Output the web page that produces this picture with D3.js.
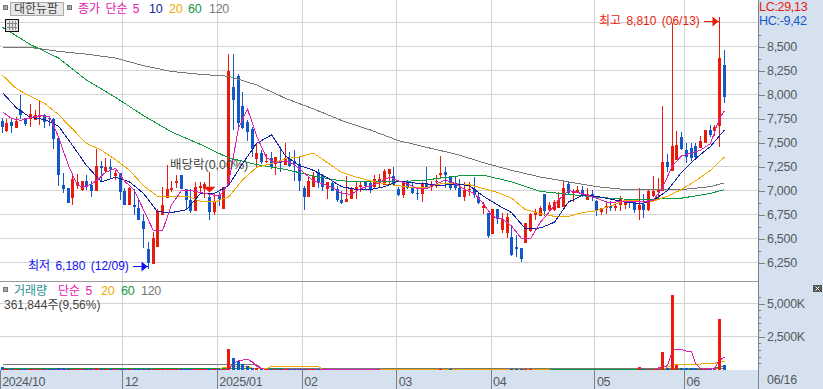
<!DOCTYPE html>
<html lang="ko">
<head>
<meta charset="utf-8">
<script src="https://cdn.jsdelivr.net/npm/d3@7"></script>
<style>
  html, body { margin: 0; padding: 0; background: #fff; overflow: hidden; }
  svg { display: block; }
  text { font-family: "Liberation Sans", "Noto Sans CJK KR", sans-serif; font-size: 12.5px; letter-spacing: -0.3px; }
  .kr { font-size: 12px; letter-spacing: 0; word-spacing: 2px; }
</style>
</head>
<body>
<div id="container"></div>
<script>
// daily candles (won)
const opens = [7720,7620,7710,7650,7840,7760,7740,7730,7770,7790,
  7760,7750,7550,7060,7030,6920,7050,7010,7100,7060,
  6990,7260,7200,7240,7150,7180,6990,6850,6850,6820,
  6680,6390,6230,6410,6750,6920,7010,7080,7160,7020,
  6900,6790,7030,7020,6930,6780,6950,6810,7070,8080,
  8190,7880,7710,7640,7330,7390,7300,7340,7280,7310,
  7270,7340,7310,7280,7030,6930,7040,7190,7160,7020,
  7080,7020,6900,6880,6910,7010,7040,7090,7080,7040,
  7090,7060,7170,7150,7020,6950,7100,7030,6970,6960,
  7070,7040,7090,7160,7190,7140,7070,7030,6930,7010,
  7020,6930,6820,6770,6550,6810,6590,6560,6520,6410,
  6400,6450,6580,6740,6730,6960,6800,6800,6820,6830,
  7070,6970,6980,7010,6900,6960,6890,6780,6820,6840,
  6820,6850,6850,6910,6900,6800,6860,6800,6940,6980,
  7000,7300,7200,7320,7560,7420,7440,7460,7440,7490,
  7630,7620,7670,8310]
const closes = [7660,7700,7670,7720,7790,7690,7800,7790,7790,7710,
  7740,7540,7160,7020,6870,7120,7090,7100,7050,6990,
  7260,7230,7240,7220,7180,6980,6850,7030,6830,6690,
  6600,6250,6510,6790,6850,7020,7030,7100,7020,6900,
  6790,7040,7050,7070,6780,6880,6910,7040,8250,7940,
  7700,7650,7610,7430,7390,7300,7310,7240,7350,7290,
  7340,7260,7280,7100,6930,7100,7150,7090,7040,7090,
  7000,6900,6870,6910,7030,7040,7060,7050,7010,7120,
  7120,7200,7220,7060,6950,7090,7030,6970,6960,7070,
  7030,7060,7100,7180,7160,7030,7030,6930,7010,7020,
  6950,6870,6840,6530,6810,6700,6700,6720,6330,6390,
  6290,6660,6760,6780,6820,6790,6850,6880,6900,7030,
  6970,7000,7010,6950,6960,6930,6790,6820,6840,6820,
  6840,6910,6910,6870,6800,6850,6800,7000,7000,7020,
  7300,7240,7460,7470,7430,7350,7340,7350,7520,7630,
  7580,7660,8380,7970]
const highs = [7760,7750,7750,7770,8000,7760,7900,7840,7940,7800,
  7780,7760,7550,7180,7030,7170,7170,7100,7160,7100,
  7430,7310,7340,7330,7210,7180,7030,7040,7020,6920,
  6760,6460,6570,6810,7040,7270,7100,7160,7160,7020,
  7020,7090,7090,7090,6970,6970,6980,7040,8420,8420,
  8210,8030,7730,7660,7500,7420,7380,7400,7350,7430,
  7500,7400,7420,7360,7050,7140,7190,7220,7170,7090,
  7090,7050,7000,7150,7040,7090,7100,7100,7090,7160,
  7170,7220,7220,7240,7040,7100,7110,7090,7020,7090,
  7240,7100,7160,7360,7250,7150,7140,7120,7090,7090,
  7140,6980,6880,6770,6810,6810,6770,6770,6640,6540,
  6400,6660,6770,6810,6840,6960,6880,6900,6980,7090,
  7090,7020,7050,7050,7030,7010,6900,6820,6890,6890,
  6860,6940,6910,6910,6900,7030,6960,7010,7150,7130,
  7880,7380,8750,7620,7610,7500,7500,7490,7570,7630,
  7680,7680,8810,8460]
const lows = [7600,7610,7600,7650,7750,7670,7660,7730,7680,7650,
  7670,7430,7050,6970,6870,6850,7020,7000,7010,6930,
  6990,7090,7190,7120,7110,6900,6850,6850,6740,6690,
  6400,6180,6230,6410,6750,6920,6980,7030,7020,6800,
  6770,6790,6980,6920,6690,6740,6840,6810,7070,7630,
  7640,7640,7520,7350,7240,7280,7290,7220,7160,7190,
  7270,7250,7100,7000,6800,6930,7040,7030,7000,6910,
  7000,6880,6860,6880,6910,6910,6980,7010,6970,7030,
  7040,7060,7070,7050,6940,6920,7020,6960,6900,6880,
  7020,6990,7030,7130,7030,7010,7010,6930,6890,6940,
  6920,6860,6760,6510,6550,6650,6560,6510,6320,6310,
  6260,6450,6570,6690,6730,6730,6790,6790,6820,6830,
  6960,6880,6970,6930,6900,6890,6730,6740,6760,6790,
  6790,6790,6810,6820,6770,6690,6710,6790,6930,6910,
  7000,7190,7200,7320,7420,7290,7310,7320,7440,7490,
  7560,7570,7450,7910]
// traded volume in thousands of shares
const volumes = [210,80,70,80,70,80,70,80,70,80,
  80,80,170,170,70,80,70,70,70,70,
  170,80,70,70,70,80,70,70,80,70,
  80,80,90,90,80,80,70,70,70,70,
  70,70,70,70,70,70,70,80,1560,920,
  640,470,270,180,130,110,80,80,80,70,
  70,70,70,80,70,70,70,70,20,20,
  20,20,20,20,20,20,20,20,20,20,
  20,20,20,20,20,20,20,20,20,20,
  20,20,20,70,20,70,20,20,20,20,
  20,20,20,20,20,20,20,20,70,70,
  70,70,70,20,20,20,20,20,20,20,
  20,20,20,20,20,20,20,20,20,20,
  20,20,20,20,20,190,70,70,70,70,
  1330,150,5650,340,140,140,140,140,110,110,
  110,110,3830,362]

// moving averages, read at the candle numbers listed in the ...At arrays
const ma5At = d3.range(0, 153, 2).concat([153])
const ma5 = [7820,7750,7730,7760,7780,7770,7560,7260,7050,7040,
  7100,7190,7230,7100,7000,6800,6580,6580,6850,7000,
  7000,6980,6960,6940,7070,7650,7850,7570,7340,7290,
  7310,7270,7180,7100,7070,7030,6970,6960,7020,7050,
  7080,7140,7100,7070,7020,7020,7070,7110,7070,7010,
  6970,6860,6730,6700,6630,6500,6500,6670,6780,6900,
  7000,6980,6950,6920,6880,6880,6890,6890,6880,6900,
  7030,7260,7360,7390,7420,7490,7750,7830]
const ma10At = d3.range(0, 154, 3)
const ma10 = [8020,7860,7760,7740,7670,7470,7260,7090,7140,7090,
  6970,6780,6770,6800,6970,6970,7050,7280,7490,7580,
  7360,7260,7210,7130,7040,7010,7010,7040,7100,7080,
  7070,7050,7070,7050,6940,6850,6770,6600,6610,6670,
  6880,6950,6940,6910,6880,6860,6900,7000,7190,7330,
  7460,7630]
const ma20At = d3.range(0, 154, 3)
const ma20 = [8200,8060,7980,7910,7790,7640,7490,7420,7320,7210,
  7050,6940,6940,6940,6890,6880,6930,7110,7240,7280,
  7330,7350,7390,7290,7190,7140,7100,7070,7050,7030,
  7030,7070,7070,7060,7020,6980,6920,6800,6760,6730,
  6730,6770,6790,6840,6900,6890,6890,6940,7010,7100,
  7210,7350]
const ma60At = d3.range(0, 151, 6).concat([153])
const ma60 = [8700,8520,8380,8150,7970,7780,7610,7480,7340,7270,
  7220,7150,7100,7090,7090,7110,7150,7160,7090,6990,
  6960,6930,6910,6910,6920,6970,7010]
const ma120At = d3.range(0, 151, 6).concat([153])
const ma120 = [8490,8490,8450,8420,8380,8300,8240,8210,8190,8100,
  7960,7850,7730,7630,7520,7450,7380,7290,7210,7140,
  7090,7040,7010,7010,7010,7040,7080]

const volMa5At = [0,47,48,49,50,51,52,53,54,55,56,79,80,138,139,140,141,142,143,144,145,146,147,148,151,152,153]
const volMa5 = [40,40,60,525,675,750,800,600,300,110,40,40,0,0,150,225,320,1500,1550,1550,1420,1370,500,130,130,750,950]
const volMa20At = [0,46,47,51,52,53,56,57,67,68,115,116,140,141,142,147,151,152,153]
const volMa20 = [40,40,200,300,300,110,110,280,250,40,40,0,0,200,430,430,500,620,650]
const volMa60At = [0,59,60,150,152,153]
const volMa60 = [112,112,40,40,240,270]
const volMa120At = [0,54,55,153]
const volMa120 = [412,412,112,112]

// axis ticks
const priceTicks = [8500,8250,8000,7750,7500,7250,7000,6750,6500,6250]
const priceGrid = [8750].concat(priceTicks)
const priceMinor = [8625,8375,8125,7875,7625,7375,7125,6875,6625,6375]
const volTicks = [5000,2500]
const volMinor = [5500,4500,4000,3500,3000,2000,1500,1000,500]
const monthStart = [0,26,46,64,84,104,126,145]
const monthLabels = ['2024/10','12','2025/01','02','03','04','05','06']
const lastDate = '06/16'

const red = '#e91c0c', blue = '#1458c8'
const magenta = '#e020b0', navy = '#1020a0', orange = '#f0a800', green = '#109840', gray = '#777777'

const width = 823, height = 389
const plotRight = 758, priceBottom = 281, volBottom = 370

const svg = d3.select('#container').append('svg').attr('width', width).attr('height', height)

const x = d3.scaleLinear().domain([0, 153]).range([2.02, 724.2])
const y = d3.scaleLinear().domain([6250, 8500]).range([262.5, 46.5])
const yVol = d3.scaleLinear().domain([0, 5000]).range([370, 303.5])

// candle centre sits on a whole pixel column
const cx = i => Math.floor(x(i)) + 0.5

// right side panel and date strip
svg.append('rect').attr('x', plotRight).attr('y', 0).attr('width', width - plotRight).attr('height', height).attr('fill', '#d6e1ef')

// grid
const grid = svg.append('g').attr('stroke', '#d4d4d4').attr('shape-rendering', 'crispEdges')
grid.selectAll('.h').data(priceGrid).enter().append('line')
  .attr('x1', 0).attr('x2', plotRight)
  .attr('y1', d => Math.floor(y(d)) + 0.5).attr('y2', d => Math.floor(y(d)) + 0.5)
grid.selectAll('.hv').data(volTicks).enter().append('line')
  .attr('x1', 0).attr('x2', plotRight)
  .attr('y1', d => Math.floor(yVol(d)) + 0.5).attr('y2', d => Math.floor(yVol(d)) + 0.5)
grid.selectAll('.v').data(monthStart.slice(1)).enter().append('line')
  .attr('x1', d => Math.round(x(d - 0.5)) + 0.5).attr('x2', d => Math.round(x(d - 0.5)) + 0.5)
  .attr('y1', 0).attr('y2', volBottom)

// wicks and bodies
const candles = svg.append('g').attr('shape-rendering', 'crispEdges')
candles.selectAll('line').data(opens).enter().append('line')
  .attr('x1', (d, i) => cx(i)).attr('x2', (d, i) => cx(i))
  .attr('y1', (d, i) => y(highs[i])).attr('y2', (d, i) => y(lows[i]))
  .attr('stroke', (d, i) => closes[i] >= d ? red : blue)
candles.selectAll('rect').data(opens).enter().append('rect')
  .attr('x', (d, i) => Math.floor(x(i)) - 1).attr('width', 3)
  .attr('y', (d, i) => y(Math.max(d, closes[i])))
  .attr('height', (d, i) => Math.max(1, Math.abs(y(d) - y(closes[i]))))
  .attr('fill', (d, i) => closes[i] >= d ? red : blue)

// moving averages
function maLine(scale, at, values, color) {
  const line = d3.line().x((d, i) => cx(at[i])).y(d => scale(d))
  svg.append('path').attr('d', line(values))
    .attr('fill', 'none').attr('stroke', color).attr('stroke-width', 1)
    .attr('shape-rendering', 'crispEdges')
}
maLine(y, ma120At, ma120, gray)
maLine(y, ma60At, ma60, green)
maLine(y, ma20At, ma20, orange)
maLine(y, ma10At, ma10, navy)
maLine(y, ma5At, ma5, magenta)

maLine(yVol, volMa120At, volMa120, gray)
maLine(yVol, volMa60At, volMa60, green)
maLine(yVol, volMa20At, volMa20, orange)
maLine(yVol, volMa5At, volMa5, magenta)

// volume bars
svg.append('g').attr('shape-rendering', 'crispEdges')
  .selectAll('rect').data(volumes).enter().append('rect')
  .attr('x', (d, i) => Math.floor(x(i)) - 1).attr('width', 3)
  .attr('y', d => yVol(d)).attr('height', d => yVol(0) - yVol(d))
  .attr('fill', (d, i) => closes[i] >= opens[i] ? red : blue)

// date strip goes over the bottom of the volume pane
svg.append('rect').attr('x', 0).attr('y', volBottom).attr('width', plotRight).attr('height', height - volBottom).attr('fill', '#d6e1ef')
svg.append('line').attr('x1', 0).attr('x2', plotRight).attr('y1', priceBottom + 0.5).attr('y2', priceBottom + 0.5)
  .attr('stroke', '#9a9a9a').attr('shape-rendering', 'crispEdges')

// axes
const axisColor = '#7c8088', labelColor = '#55585c'
function styleAxis(g) {
  g.selectAll('.domain').remove()
  g.selectAll('line').attr('stroke', axisColor).attr('shape-rendering', 'crispEdges')
  g.selectAll('text').attr('fill', labelColor).attr('dy', '0.28em')
  g.attr('font-family', null).attr('font-size', null)
}
const priceAxis = d3.axisRight(y).tickValues(priceTicks).tickSize(7).tickPadding(2).tickFormat(d3.format(','))
svg.append('g').attr('transform', `translate(${plotRight},0)`).call(priceAxis).call(styleAxis)
const priceMinorAxis = d3.axisRight(y).tickValues(priceMinor).tickSize(3).tickFormat('')
svg.append('g').attr('transform', `translate(${plotRight},0)`).call(priceMinorAxis).call(styleAxis)
const volAxis = d3.axisRight(yVol).tickValues(volTicks).tickSize(7).tickPadding(2).tickFormat(d => d3.format(',')(d) + 'K')
svg.append('g').attr('transform', `translate(${plotRight},0)`).call(volAxis).call(styleAxis)
const volMinorAxis = d3.axisRight(yVol).tickValues(volMinor).tickSize(3).tickFormat('')
svg.append('g').attr('transform', `translate(${plotRight},0)`).call(volMinorAxis).call(styleAxis)

const dateAxis = d3.axisBottom(x).tickValues(monthStart.map(d => d - 0.5)).tickSize(height - volBottom)
  .tickFormat((d, i) => monthLabels[i])
svg.append('g').attr('transform', `translate(0,${volBottom})`).call(dateAxis).call(styleAxis)
  .selectAll('text').attr('text-anchor', 'start').attr('x', 2).attr('y', 7).attr('dy', '0.71em')

svg.append('line').attr('x1', plotRight + 0.5).attr('x2', plotRight + 0.5).attr('y1', 0).attr('y2', height)
  .attr('stroke', axisColor).attr('shape-rendering', 'crispEdges')
svg.append('text').attr('x', 767).attr('y', 384).attr('fill', labelColor).text(lastDate)

// legends
function label(px, py, txt, color, cls) {
  return svg.append('text').attr('class', cls || null).attr('x', px).attr('y', py).attr('fill', color).text(txt)
}
function square(px, py) {
  svg.append('rect').attr('x', px + 0.5).attr('y', py + 0.5).attr('width', 4).attr('height', 4)
    .attr('fill', '#a8a8a8').attr('stroke', '#777').attr('shape-rendering', 'crispEdges')
}
square(3, 5)
svg.append('rect').attr('x', 10.5).attr('y', 2.5).attr('width', 53).attr('height', 13)
  .attr('fill', '#e8e8e8').attr('stroke', '#aaa').attr('shape-rendering', 'crispEdges')
label(14, 13, '대한뉴팜', '#444', 'kr')
square(67, 5)
label(78, 13, '종가 단순 5', magenta, 'kr')
label(149, 13, '10', navy)
label(169, 13, '20', orange)
label(188, 13, '60', green)
label(209, 13, '120', gray)

// small table icon under the name
const icon = svg.append('g').attr('shape-rendering', 'crispEdges')
icon.append('rect').attr('x', 5.5).attr('y', 19.5).attr('width', 13).attr('height', 12).attr('fill', '#e4e4e4').attr('stroke', '#111')
icon.selectAll('.c').data([9.5, 12.5, 15.5]).enter().append('line')
  .attr('x1', d => d).attr('x2', d => d).attr('y1', 21).attr('y2', 30).attr('stroke', '#888')
icon.selectAll('.r').data([23.5, 27.5]).enter().append('line')
  .attr('x1', 7).attr('x2', 17).attr('y1', d => d).attr('y2', d => d).attr('stroke', '#888')

square(3, 287)
label(14, 294.5, '거래량', '#2a9090', 'kr')
label(58, 294.5, '단순 5', magenta, 'kr')
label(101, 294.5, '20', orange)
label(121, 294.5, '60', green)
label(141, 294.5, '120', gray)
label(4, 308.5, '361,844주(9,56%)', '#444', 'kr').style('word-spacing', '0')

label(759, 10.5, 'LC:29,13', red)
label(759, 24.5, 'HC:-9,42', blue)

// close box of the volume pane
svg.append('rect').attr('x', 813).attr('y', 285).attr('width', 9).attr('height', 7).attr('fill', '#555')
svg.append('path').attr('d', 'M815.5,286.5 L819.5,290.5 M819.5,286.5 L815.5,290.5').attr('stroke', '#fff').attr('fill', 'none')

// high / low / ex-dividend notes
function arrow(tip, py, color) {
  svg.append('line').attr('x1', tip - 15).attr('x2', tip).attr('y1', py).attr('y2', py).attr('stroke', color).attr('shape-rendering', 'crispEdges')
  svg.append('path').attr('d', `M${tip},${py} L${tip - 6},${py - 5} L${tip - 6},${py + 5} Z`).attr('fill', color)
}
label(599, 25, '최고 8,810 (06/13)', red, 'kr')
arrow(cx(152) - 1, Math.floor(y(8760)) + 0.5, red)
label(28, 270, '최저 6,180 (12/09)', '#1010f0', 'kr')
arrow(cx(31) - 1, Math.floor(y(6210)) + 0.5, '#1010f0')

const divX = cx(44)
svg.append('line').attr('x1', divX).attr('x2', divX).attr('y1', y(7190)).attr('y2', y(7040)).attr('stroke', red).attr('shape-rendering', 'crispEdges')
svg.append('path').attr('d', `M${divX - 6},${y(7040)} L${divX + 6},${y(7040)} L${divX},${y(6980)} Z`).attr('fill', red)
label(170, 169, '배당락(0,00%)', '#444', 'kr').style('font-size', '12.5px').style('word-spacing', '0')
</script>
</body>
</html>
